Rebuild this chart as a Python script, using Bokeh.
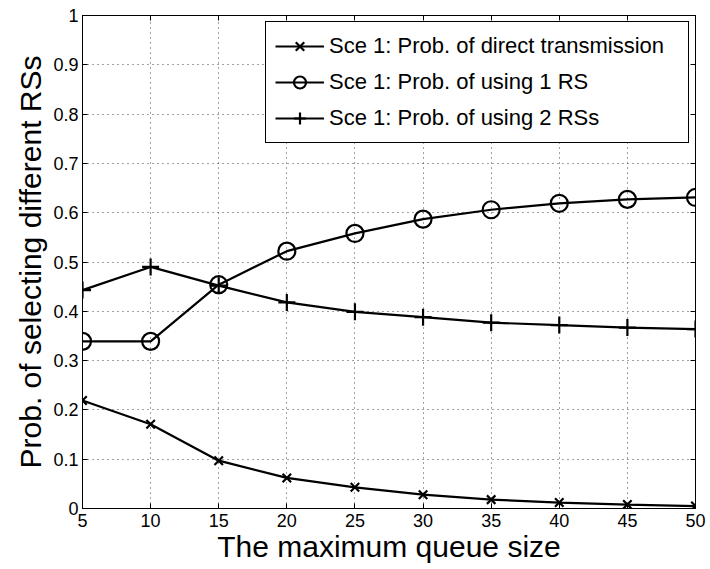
from bokeh.plotting import figure
from bokeh.models import LinearAxis, FixedTicker, Range1d, Legend, LegendItem
from bokeh.embed import file_html
from bokeh.resources import INLINE

queue_size = [5, 10, 15, 20, 25, 30, 35, 40, 45, 50]
p_direct = [0.219, 0.171, 0.097, 0.062, 0.043, 0.028, 0.018, 0.012, 0.008, 0.005]
p_one_rs = [0.339, 0.339, 0.454, 0.522, 0.558, 0.587, 0.606, 0.619, 0.627, 0.631]
p_two_rs = [0.443, 0.490, 0.452, 0.418, 0.399, 0.388, 0.377, 0.372, 0.367, 0.364]
x_ticks = [5, 10, 15, 20, 25, 30, 35, 40, 45, 50]
y_ticks = [0, 0.1, 0.2, 0.3, 0.4, 0.5, 0.6, 0.7, 0.8, 0.9, 1]
labels = ["Sce 1: Prob. of direct transmission",
          "Sce 1: Prob. of using 1 RS",
          "Sce 1: Prob. of using 2 RSs"]

FONT = "Liberation Sans"

p = figure(width=710, height=569, output_backend="svg", toolbar_location=None,
           x_range=Range1d(5, 50), y_range=Range1d(0, 1),
           min_border_left=82, min_border_right=15, min_border_top=15, min_border_bottom=61)
p.outline_line_color = "black"
p.outline_line_width = 1

for ax in [p.xaxis[0], p.yaxis[0]]:
    ax.major_tick_in = 5
    ax.major_tick_out = 0
    ax.minor_tick_line_color = None
    ax.major_label_text_font = FONT
    ax.major_label_text_font_size = "18px"
    ax.major_label_text_color = "black"
    ax.axis_label_text_font = FONT
    ax.axis_label_text_font_style = "normal"
    ax.axis_label_text_font_size = "30px"
    ax.axis_label_text_color = "black"
    ax.axis_line_color = "black"
    ax.major_tick_line_color = "black"

p.xaxis[0].ticker = FixedTicker(ticks=x_ticks)
p.yaxis[0].ticker = FixedTicker(ticks=y_ticks)
p.yaxis[0].major_label_overrides = {0: "0", 1: "1"}
p.xaxis[0].axis_label = "The maximum queue size"
p.yaxis[0].axis_label = "Prob. of selecting different RSs"
p.xaxis[0].axis_label_standoff = 0
p.yaxis[0].axis_label_standoff = 3
p.xaxis[0].major_label_standoff = 5
p.yaxis[0].major_label_standoff = 4

rax = LinearAxis(ticker=FixedTicker(ticks=y_ticks), major_label_text_font_size="1px",
                 major_label_text_color=None,
                 major_tick_in=5, major_tick_out=0, minor_tick_line_color=None,
                 major_label_standoff=0)
tax = LinearAxis(ticker=FixedTicker(ticks=x_ticks), major_label_text_font_size="1px",
                 major_label_text_color=None,
                 major_tick_in=5, major_tick_out=0, minor_tick_line_color=None,
                 major_label_standoff=0)
p.add_layout(rax, "right")
p.add_layout(tax, "above")

p.xgrid.ticker = FixedTicker(ticks=x_ticks)
p.ygrid.ticker = FixedTicker(ticks=y_ticks)
for g in [p.xgrid[0], p.ygrid[0]]:
    g.grid_line_color = "#444444"
    g.grid_line_dash = "1 4"
    g.grid_line_width = 1

items = []
specs = [(p_direct, "x", 12), (p_one_rs, "circle", 17), (p_two_rs, "cross", 17)]
for (ys, mk, sz), lab in zip(specs, labels):
    l = p.line(queue_size, ys, line_color="black", line_width=2.2)
    s = p.scatter(queue_size, ys, marker=mk, size=sz, line_color="black",
                  fill_color=None, line_width=2.2)
    items.append(LegendItem(label=lab, renderers=[l, s]))

legend = Legend(items=items, location="top_right")
legend.label_text_font = FONT
legend.label_text_font_size = "22px"
legend.label_text_color = "black"
legend.border_line_color = "black"
legend.border_line_width = 1
legend.border_line_alpha = 1
legend.glyph_width = 49
legend.glyph_height = 30
legend.label_standoff = 5
legend.label_height = 30
legend.label_width = 350
legend.spacing = 6
legend.padding = 9
legend.margin = 6
legend.background_fill_alpha = 1
p.add_layout(legend)

open("out.html", "w").write(file_html(p, INLINE))
